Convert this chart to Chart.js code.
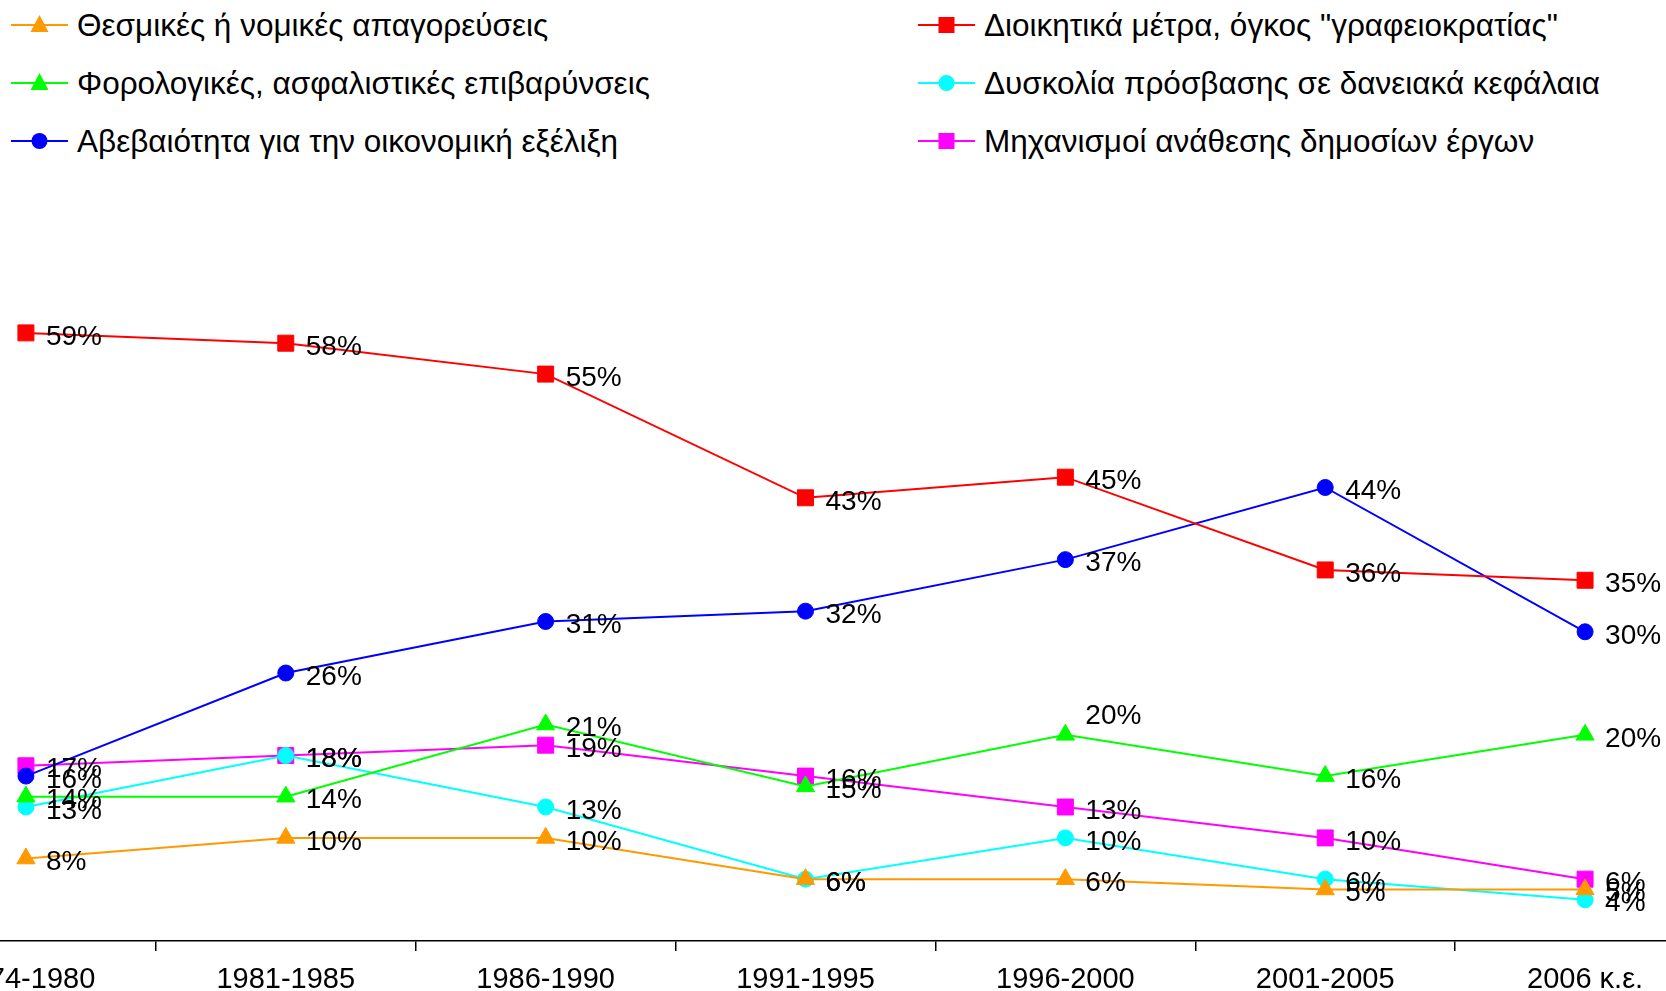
<!DOCTYPE html>
<html>
<head>
<meta charset="utf-8">
<script src="https://cdn.jsdelivr.net/npm/chart.js@4.4.0/dist/chart.umd.min.js"></script>
<style>
    html, body { margin: 0; padding: 0; background: #fff; overflow: hidden; }
    body { width: 1666px; height: 991px; position: relative; font-family: "Liberation Sans", Arial, sans-serif; }
    #chartBox { position: absolute; left: -104px; top: 0; width: 1819px; height: 1008px; }
    .legend-item { position: absolute; height: 40px; font-size: 31.5px; color: #000; white-space: nowrap; display: flex; align-items: center; }
    .legend-item svg { margin-right: 9px; flex: none; }
</style>
</head>
<body>
<div id="legend"></div>
<div id="chartBox"><canvas id="myChart"></canvas></div>
<script>
// categories (x axis)
const periods = ["1974-1980", "1981-1985", "1986-1990", "1991-1995", "1996-2000", "2001-2005", "2006 κ.ε."];

// series values (%)
const bans = [8, 10, 10, 6, 6, 5, 5];           // Θεσμικές ή νομικές απαγορεύσεις
const bureaucracy = [59, 58, 55, 43, 45, 36, 35]; // Διοικητικά μέτρα
const taxes = [14, 14, 21, 15, 20, 16, 20];     // Φορολογικές, ασφαλιστικές επιβαρύνσεις
const credit = [13, 18, 13, 6, 10, 6, 4];       // Δυσκολία πρόσβασης σε δανειακά κεφάλαια
const uncertainty = [16, 26, 31, 32, 37, 44, 30]; // Αβεβαιότητα για την οικονομική εξέλιξη
const tenders = [17, 18, 19, 16, 13, 10, 6];    // Μηχανισμοί ανάθεσης δημοσίων έργων

// labels that sit above the point instead of right of it: [dataset, point]
const labelsAbove = [[2, 4]];

function series(label, data, color, style, radius) {
    return {
        label: label,
        data: data,
        borderColor: color,
        backgroundColor: color,
        borderWidth: 2,
        pointStyle: style,
        pointRadius: radius,
        pointBorderWidth: 1,
        pointBackgroundColor: color,
        pointBorderColor: color,
        tension: 0
    };
}

const datasets = [
    series("Θεσμικές ή νομικές απαγορεύσεις", bans, "#FF9900", "triangle", 10.5),
    series('Διοικητικά μέτρα, όγκος "γραφειοκρατίας"', bureaucracy, "#FF0000", "rect", 11.3),
    series("Φορολογικές, ασφαλιστικές επιβαρύνσεις", taxes, "#00FF00", "triangle", 10.5),
    series("Δυσκολία πρόσβασης σε δανειακά κεφάλαια", credit, "#00FFFF", "circle", 8),
    series("Αβεβαιότητα για την οικονομική εξέλιξη", uncertainty, "#0000FF", "circle", 8),
    series("Μηχανισμοί ανάθεσης δημοσίων έργων", tenders, "#FF00FF", "rect", 11.3)
];

const labelPlugin = {
    id: "pctLabels",
    afterDatasetsDraw(chart) {
        const ctx = chart.ctx;
        ctx.save();
        ctx.font = '28px "Liberation Sans", Arial, sans-serif';
        ctx.fillStyle = "#000";
        ctx.textAlign = "left";
        ctx.textBaseline = "middle";
        chart.data.datasets.forEach((ds, i) => {
            chart.getDatasetMeta(i).data.forEach((pt, j) => {
                const above = labelsAbove.some(p => p[0] === i && p[1] === j);
                ctx.fillText(ds.data[j] + "%", pt.x + 20, pt.y + (above ? -19 : 4));
            });
        });
        ctx.restore();
    }
};

const ctx = document.getElementById("myChart").getContext("2d");
const chart = new Chart(ctx, {
    type: "line",
    data: { labels: periods, datasets: datasets },
    options: {
        responsive: true,
        maintainAspectRatio: false,
        animation: false,
        layout: { autoPadding: false, padding: { top: 219.5, left: 0, right: 0, bottom: 0 } },
        plugins: {
            legend: { display: false },
            tooltip: { enabled: false }
        },
        scales: {
            x: {
                offset: true,
                grid: {
                    offset: true,
                    drawOnChartArea: false,
                    drawTicks: true,
                    tickLength: 10,
                    color: "#000",
                    lineWidth: 1.5
                },
                border: { display: true, color: "#000", width: 1.5 },
                ticks: {
                    color: "#000",
                    padding: 14,
                    maxRotation: 0,
                    autoSkip: false,
                    font: { family: '"Liberation Sans", Arial, sans-serif', size: 29, lineHeight: 1 }
                }
            },
            y: {
                display: false,
                min: 0,
                max: 70
            }
        }
    },
    plugins: [labelPlugin]
});

// legend, two columns, filled row by row
const legendBox = document.getElementById("legend");
const colX = [11, 918];
const rowY = [5, 63, 121];
datasets.forEach((ds, i) => {
    const col = i % 2, row = Math.floor(i / 2);
    const item = document.createElement("div");
    item.className = "legend-item";
    item.style.left = colX[col] + "px";
    item.style.top = rowY[row] + "px";
    const w = 57, h = 40, cx = 28.5, cy = 20;
    let marker;
    if (ds.pointStyle === "rect") {
        marker = `<rect x="${cx - 8}" y="${cy - 8}" width="16" height="16" fill="${ds.borderColor}"/>`;
    } else if (ds.pointStyle === "circle") {
        marker = `<circle cx="${cx}" cy="${cy}" r="8" fill="${ds.borderColor}"/>`;
    } else {
        marker = `<polygon points="${cx},${cy - 10} ${cx + 9},${cy + 7} ${cx - 9},${cy + 7}" fill="${ds.borderColor}"/>`;
    }
    item.innerHTML = `<svg width="${w}" height="${h}"><line x1="0" y1="${cy}" x2="${w}" y2="${cy}" stroke="${ds.borderColor}" stroke-width="2"/>${marker}</svg><span>${ds.label}</span>`;
    legendBox.appendChild(item);
});
</script>
</body>
</html>
